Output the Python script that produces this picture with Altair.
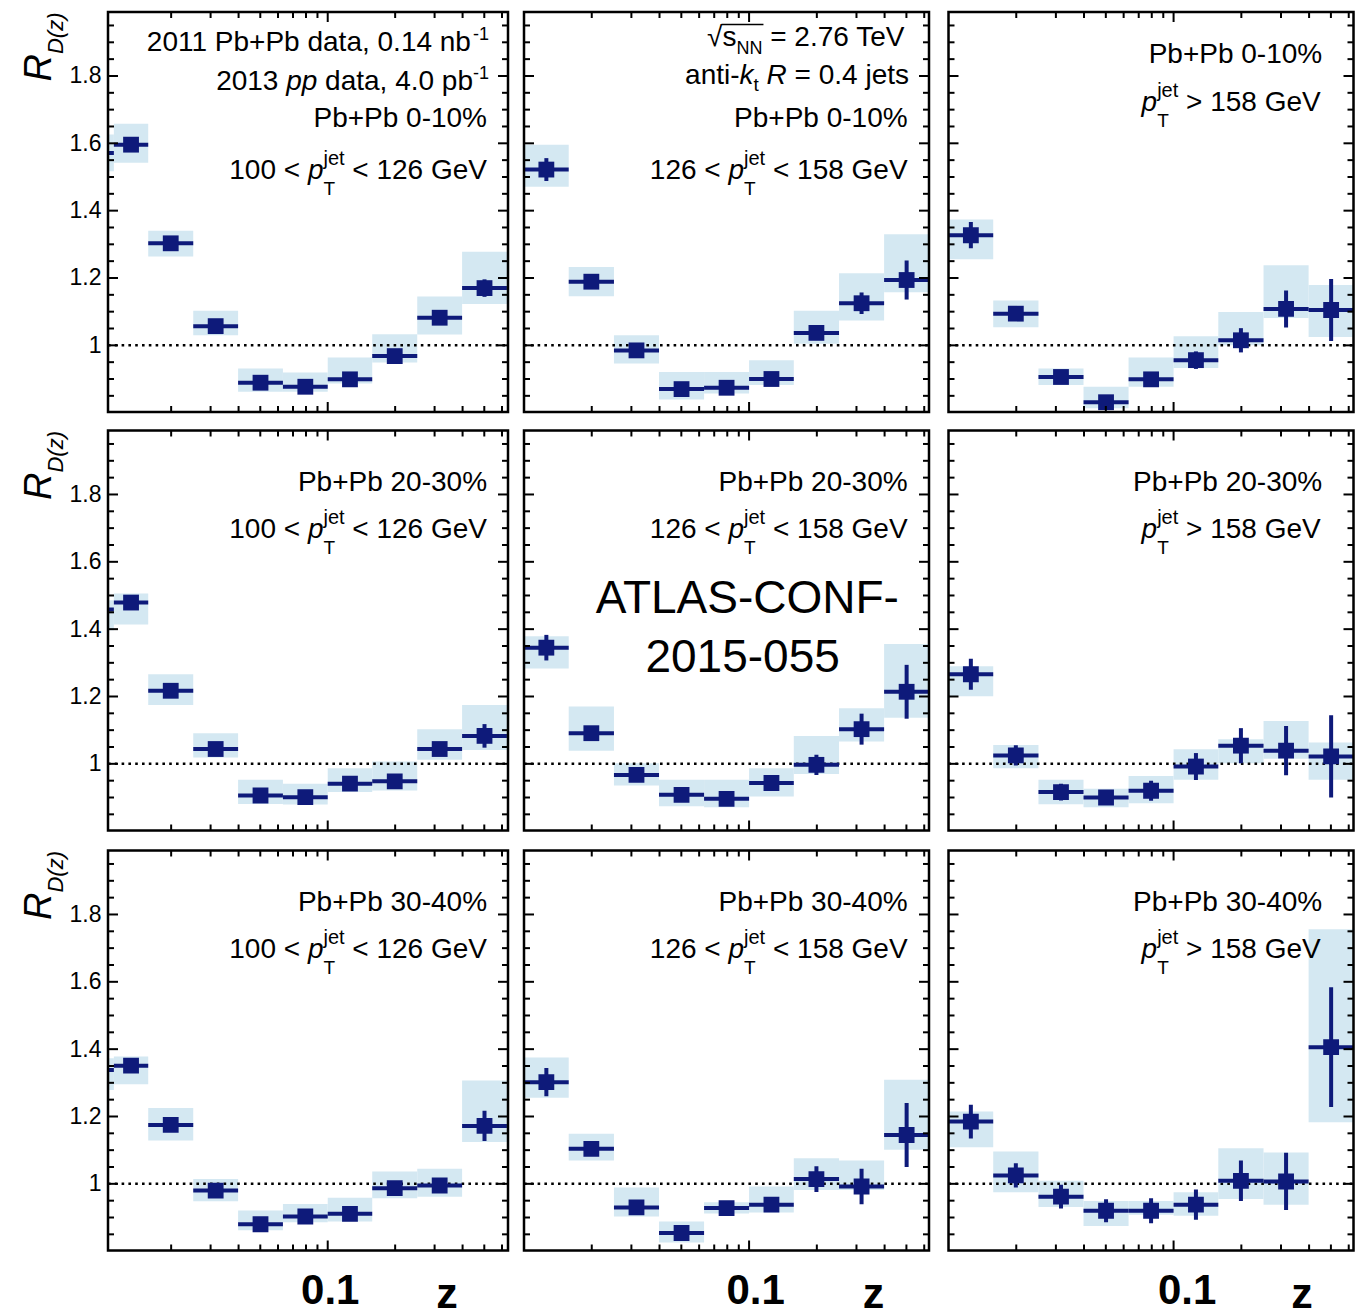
import math
import altair as alt
import pandas as pd

FONT = "Liberation Sans"
NAVY = "#0e1a7a"
BOX = "#d4e8f2"

# ---------------- data ----------------
EDGES = [0.01, 0.0158, 0.0251, 0.0398, 0.0631, 0.1, 0.158, 0.251, 0.398, 0.631]
COL1_FIRST_EDGE = 0.0111
UNDERFLOW_EDGES = [0.0079, 0.0111]

# row 1 : Pb+Pb 0-10 %
P11_VAL = [1.596, 1.303, 1.057, 0.889, 0.877, 0.899, 0.968, 1.082, 1.170]
P11_LO = [1.542, 1.264, 1.030, 0.862, 0.862, 0.887, 0.949, 1.032, 1.123]
P11_HI = [1.658, 1.340, 1.103, 0.931, 0.919, 0.964, 1.033, 1.145, 1.278]
P11_STAT = [0.012, 0.010, 0.010, 0.010, 0.012, 0.012, 0.013, 0.016, 0.026]
P11_UNDER = [1.571, 1.517, 1.626]

P12_VAL = [1.522, 1.189, 0.985, 0.870, 0.874, 0.900, 1.037, 1.125, 1.194]
P12_LO = [1.471, 1.146, 0.946, 0.839, 0.857, 0.882, 1.005, 1.074, 1.158]
P12_HI = [1.596, 1.233, 1.030, 0.921, 0.921, 0.956, 1.103, 1.214, 1.330]
P12_STAT = [0.034, 0.012, 0.012, 0.012, 0.012, 0.012, 0.014, 0.032, 0.058]

P13_VAL = [1.327, 1.094, 0.906, 0.831, 0.899, 0.956, 1.015, 1.108, 1.105]
P13_LO = [1.256, 1.054, 0.882, 0.813, 0.877, 0.933, 1.000, 1.081, 1.025]
P13_HI = [1.374, 1.133, 0.931, 0.877, 0.964, 1.027, 1.099, 1.238, 1.179]
P13_STAT = [0.039, 0.012, 0.012, 0.012, 0.012, 0.026, 0.036, 0.055, 0.092]

# row 2 : Pb+Pb 20-30 %
P21_VAL = [1.479, 1.217, 1.044, 0.906, 0.901, 0.941, 0.948, 1.044, 1.083]
P21_LO = [1.414, 1.175, 1.019, 0.881, 0.879, 0.916, 0.921, 1.012, 1.041]
P21_HI = [1.506, 1.266, 1.091, 0.953, 0.941, 0.987, 1.007, 1.103, 1.175]
P21_STAT = [0.012, 0.010, 0.010, 0.010, 0.010, 0.010, 0.012, 0.014, 0.035]
P21_UNDER = [1.458, 1.397, 1.486]

P22_VAL = [1.345, 1.091, 0.967, 0.908, 0.896, 0.943, 0.997, 1.103, 1.214]
P22_LO = [1.283, 1.039, 0.936, 0.874, 0.871, 0.903, 0.970, 1.066, 1.137]
P22_HI = [1.379, 1.170, 1.002, 0.953, 0.953, 0.987, 1.083, 1.165, 1.356]
P22_STAT = [0.038, 0.012, 0.012, 0.012, 0.012, 0.012, 0.030, 0.046, 0.080]

P23_VAL = [1.266, 1.025, 0.916, 0.900, 0.920, 0.992, 1.054, 1.039, 1.022]
P23_LO = [1.201, 0.987, 0.880, 0.871, 0.883, 0.953, 1.002, 1.015, 0.953]
P23_HI = [1.290, 1.056, 0.953, 0.926, 0.964, 1.043, 1.073, 1.127, 1.063]
P23_STAT = [0.046, 0.030, 0.025, 0.020, 0.030, 0.040, 0.052, 0.073, 0.122]

# row 3 : Pb+Pb 30-40 %
P31_VAL = [1.351, 1.175, 0.980, 0.880, 0.903, 0.911, 0.987, 0.995, 1.172]
P31_LO = [1.296, 1.129, 0.948, 0.862, 0.886, 0.888, 0.957, 0.962, 1.124]
P31_HI = [1.378, 1.225, 1.014, 0.921, 0.940, 0.959, 1.037, 1.045, 1.307]
P31_STAT = [0.012, 0.010, 0.010, 0.010, 0.010, 0.010, 0.012, 0.013, 0.045]
P31_UNDER = [1.338, 1.279, 1.373]

P32_VAL = [1.302, 1.104, 0.930, 0.854, 0.928, 0.938, 1.014, 0.992, 1.145]
P32_LO = [1.256, 1.069, 0.903, 0.826, 0.912, 0.915, 0.982, 0.982, 1.101]
P32_HI = [1.375, 1.149, 0.989, 0.888, 0.945, 0.992, 1.076, 1.069, 1.309]
P32_STAT = [0.042, 0.012, 0.012, 0.012, 0.012, 0.014, 0.038, 0.053, 0.095]

P33_VAL = [1.185, 1.025, 0.962, 0.920, 0.920, 0.938, 1.009, 1.007, 1.406]
P33_LO = [1.109, 0.975, 0.931, 0.875, 0.908, 0.905, 0.955, 0.938, 1.183]
P33_HI = [1.215, 1.096, 1.009, 0.949, 0.949, 0.975, 1.106, 1.093, 1.756]
P33_STAT = [0.050, 0.036, 0.035, 0.034, 0.037, 0.045, 0.060, 0.085, 0.178]

PANELS = {
    (0, 0): (P11_VAL, P11_LO, P11_HI, P11_STAT, P11_UNDER),
    (0, 1): (P12_VAL, P12_LO, P12_HI, P12_STAT, None),
    (0, 2): (P13_VAL, P13_LO, P13_HI, P13_STAT, None),
    (1, 0): (P21_VAL, P21_LO, P21_HI, P21_STAT, P21_UNDER),
    (1, 1): (P22_VAL, P22_LO, P22_HI, P22_STAT, None),
    (1, 2): (P23_VAL, P23_LO, P23_HI, P23_STAT, None),
    (2, 0): (P31_VAL, P31_LO, P31_HI, P31_STAT, P31_UNDER),
    (2, 1): (P32_VAL, P32_LO, P32_HI, P32_STAT, None),
    (2, 2): (P33_VAL, P33_LO, P33_HI, P33_STAT, None),
}

CENTRALITY = ["0-10%", "20-30%", "30-40%"]
PT_LO = ["100", "126", None]
PT_HI = ["126", "158", "158"]

Y_MAJOR = [1.0, 1.2, 1.4, 1.6, 1.8]
Y_MINOR = [0.85, 0.9, 0.95, 1.05, 1.1, 1.15, 1.25, 1.3, 1.35, 1.45, 1.5, 1.55,
           1.65, 1.7, 1.75, 1.85, 1.9, 1.95]
X_MAJOR = [0.1]
X_MINOR = [0.02, 0.03, 0.04, 0.05, 0.06, 0.07, 0.08, 0.09, 0.2, 0.3, 0.4, 0.5, 0.6]
Y_LABELS = [1.0, 1.2, 1.4, 1.6, 1.8]
X_LABELS = [0.1]

# ---------------- layout ----------------
WIDTHS = [400, 405, 405]
H = 400
XDOM = [[0.01045, 0.638], [0.01, 0.63], [0.01, 0.63]]
YDOM = [0.802, 1.99]
TEXT_RIGHT = [379, 383.6, 373.7]
LABEL_OFFSET = [2, 6, 13]
Z_X = [338.5, 349, 353]

ONE = pd.DataFrame({"k": [0]})

CW = {"0": 556, "1": 556, "2": 556, "3": 556, "4": 556, "5": 556, "6": 556,
      "7": 556, "8": 556, "9": 556, " ": 278, "P": 667, "b": 556, "+": 584,
      "d": 556, "a": 556, "t": 278, ",": 278, ".": 278, "n": 556, "-": 333,
      "p": 556, "%": 889, "<": 584, ">": 584, "j": 222, "e": 556, "T": 611,
      "G": 778, "V": 667, "\u221a": 549, "s": 500, "N": 722, "=": 584,
      "i": 222, "k": 500, "R": 722}


def tw(s, size):
    return sum(CW.get(ch, 556) for ch in s) * size / 1000.0


def place(items, right, base):
    widths = [max(tw(t, s) for (t, s, it, dy) in grp) for grp in items]
    x = right - sum(widths)
    out = []
    for grp, w in zip(items, widths):
        for (t, s, it, dy) in grp:
            lead = len(t) - len(t.lstrip(" "))
            out.append((x + lead * 278 * s / 1000.0, base + dy, t.strip(" "), s, it))
        x += w
    return out


def text_mark(x, y, t, size, italic=False, align="left", angle=None):
    kw = dict(text=t, font=FONT, fontSize=size, align=align,
              baseline="alphabetic", color="black")
    if italic:
        kw["fontStyle"] = "italic"
    if angle is not None:
        kw["angle"] = angle
    return alt.Chart(ONE).mark_text(**kw).encode(x=alt.value(x), y=alt.value(y))


def pt_items(lo, hi):
    sup = [("jet", 20, False, -14), ("T", 19, False, 16)]
    if lo is None:
        return [[("p", 28, True, 0)], sup, [(" > " + hi + " GeV", 28, False, 0)]]
    return [[(lo + " < ", 28, False, 0)], [("p", 28, True, 0)], sup,
            [(" < " + hi + " GeV", 28, False, 0)]]


def panel_texts(r, c):
    R = TEXT_RIGHT[c]
    segs = []
    extra = []
    cent = [[("Pb+Pb " + CENTRALITY[r], 28, False, 0)]]
    if r == 0 and c == 0:
        segs += place([[("2011 Pb+Pb data, 0.14 nb", 28, False, 0)], [("-1", 18, False, -11)]], 381, 38.6)
        segs += place([[("2013 ", 28, False, 0)], [("pp", 28, True, 0)],
                       [(" data, 4.0 pb", 28, False, 0)], [("-1", 18, False, -11)]], 381, 77.6)
        segs += place(cent, R, 115.3)
        segs += place(pt_items(PT_LO[c], PT_HI[c]), R, 166.6)
    elif r == 0 and c == 1:
        sq = place([[("\u221a", 28, False, 0)], [("s", 28, False, 0)], [("NN", 18, False, 8)],
                    [(" = 2.76 TeV", 28, False, 0)]], 384, 34.3)
        segs += sq
        x0 = sq[0][0] + tw("\u221a", 28) - 1
        x1 = sq[2][0] + tw("NN", 18) + 1
        extra.append(alt.Chart(ONE).mark_rule(color="black", strokeWidth=1.6).encode(
            x=alt.value(x0), x2=alt.value(x1), y=alt.value(12.5)))
        segs += place([[("anti-", 28, False, 0)], [("k", 28, True, 0)], [("t", 19, False, 7)],
                       [(" ", 28, False, 0)], [("R", 28, True, 0)],
                       [(" = 0.4 jets", 28, False, 0)]], 385, 72)
        segs += place(cent, R, 115.3)
        segs += place(pt_items(PT_LO[c], PT_HI[c]), R, 166.6)
    elif r == 0 and c == 2:
        segs += place(cent, R, 51)
        segs += place(pt_items(PT_LO[c], PT_HI[c]), R - 1.5, 99.3)
    else:
        segs += place(cent, R, 60.3)
        segs += place(pt_items(PT_LO[c], PT_HI[c]), R - (1.5 if c == 2 else 0), 107.6)
    layers = [text_mark(x, y, t, s, it) for (x, y, t, s, it) in segs if t]
    if r == 1 and c == 1:
        layers.append(text_mark(223.3, 182, "ATLAS-CONF-", 46, align="center"))
        layers.append(text_mark(218.6, 241, "2015-055", 46, align="center"))
    if c == 0:
        layers.append(text_mark(-57, 69.5, "R", 38, True, angle=270))
        layers.append(text_mark(-45, 69.5 - tw("R", 38), "D(z)", 22, True, angle=270))
    return layers + extra


def panel(r, c):
    W = WIDTHS[c]
    val, lo, hi, stat, under = PANELS[(r, c)]
    xlo = list(EDGES[:-1])
    xhi = list(EDGES[1:])
    if c == 0:
        xlo[0] = COL1_FIRST_EDGE
    rows = []
    for i in range(9):
        rows.append(dict(x_lo=xlo[i], x_hi=xhi[i], x_c=math.sqrt(xlo[i] * xhi[i]),
                         val=val[i], lo=lo[i], hi=hi[i],
                         s_lo=val[i] - stat[i], s_hi=val[i] + stat[i]))
    if under is not None:
        a, b = UNDERFLOW_EDGES
        rows.insert(0, dict(x_lo=a, x_hi=b, x_c=math.sqrt(a * b), val=under[0],
                            lo=under[1], hi=under[2], s_lo=under[0] - 0.01,
                            s_hi=under[0] + 0.01))
    df = pd.DataFrame(rows)

    xs = alt.Scale(type="log", domain=XDOM[c], nice=False)
    ys = alt.Scale(domain=YDOM, nice=False, zero=False)
    if c == 0:
        yaxis = alt.Axis(values=Y_LABELS, format="~g", ticks=False, tickSize=0, domain=False,
                         grid=False, labelFontSize=23, labelPadding=7, title=None,
                         labelColor="black", labelFont=FONT)
    else:
        yaxis = None
    if r == 2:
        xaxis = alt.Axis(values=X_LABELS, format="~g", ticks=False, tickSize=0, domain=False,
                         grid=False, labelFontSize=42, labelFontWeight="bold", labelFont=FONT,
                         labelColor="black", labelBaseline="alphabetic", labelPadding=53,
                         labelOffset=LABEL_OFFSET[c], labelFlush=False,
                         title="z", titleFontSize=43, titleFontWeight="bold", titleFont=FONT,
                         titleColor="black", titleX=Z_X[c], titleY=57, titleAlign="center",
                         titleBaseline="alphabetic", titleAnchor="start")
    else:
        xaxis = None

    def X(f):
        return alt.X(f, scale=xs, axis=xaxis)

    def Y(f):
        return alt.Y(f, scale=ys, axis=yaxis)

    base = alt.Chart(df)
    box = base.mark_rect(color=BOX, clip=True).encode(
        x=X("x_lo:Q"), x2="x_hi:Q", y=Y("lo:Q"), y2="hi:Q")
    unity = alt.Chart(pd.DataFrame({"one": [1.0]})).mark_rule(
        color="black", strokeWidth=2.5, strokeDash=[2.6, 4.2]).encode(
        y=Y("one:Q"), x=alt.value(0), x2=alt.value(W))
    hbar = base.mark_rule(color=NAVY, strokeWidth=4, clip=True).encode(
        x=X("x_lo:Q"), x2="x_hi:Q", y=Y("val:Q"))
    vbar = base.mark_rule(color=NAVY, strokeWidth=4, clip=True).encode(
        x=X("x_c:Q"), y=Y("s_lo:Q"), y2="s_hi:Q")
    marker = base.mark_square(size=250, color=NAVY, opacity=1, clip=True).encode(
        x=X("x_c:Q"), y=Y("val:Q"))

    ymaj = pd.DataFrame({"v": Y_MAJOR})
    ymin = pd.DataFrame({"v": Y_MINOR})
    xmaj = pd.DataFrame({"v": X_MAJOR})
    xmin = pd.DataFrame({"v": X_MINOR})
    tk = dict(color="black", strokeWidth=2)
    ticks = []
    for dfv, L in ((ymaj, 10), (ymin, 6)):
        ticks.append(alt.Chart(dfv).mark_rule(**tk).encode(y=Y("v:Q"), x=alt.value(0), x2=alt.value(L)))
        ticks.append(alt.Chart(dfv).mark_rule(**tk).encode(y=Y("v:Q"), x=alt.value(W - L), x2=alt.value(W)))
    for dfv, L in ((xmaj, 10), (xmin, 6)):
        ticks.append(alt.Chart(dfv).mark_rule(**tk).encode(x=X("v:Q"), y=alt.value(0), y2=alt.value(L)))
        ticks.append(alt.Chart(dfv).mark_rule(**tk).encode(x=X("v:Q"), y=alt.value(H - L), y2=alt.value(H)))

    frame = alt.Chart(ONE).mark_rect(filled=False, stroke="black", strokeWidth=2.5).encode(
        x=alt.value(0), x2=alt.value(W), y=alt.value(0), y2=alt.value(H))

    layers = [box, unity, hbar, vbar, marker] + ticks + [frame] + panel_texts(r, c)
    if c == 0:
        layers.append(alt.Chart(ONE).mark_rule(strokeOpacity=0, strokeWidth=1).encode(
            x=alt.value(-107), x2=alt.value(-107),
            y=alt.value(-10.7 if r == 0 else 0), y2=alt.value(H)))
    return alt.layer(*layers).properties(width=W, height=H)


def row(r):
    left = alt.hconcat(panel(r, 0), panel(r, 1), spacing=12)
    return alt.hconcat(left, panel(r, 2), spacing=15.5)


top = alt.vconcat(row(0), row(1), spacing=14.5)
chart = alt.vconcat(top, row(2), spacing=15.5).properties(
    padding={"left": 0, "top": 0, "right": 5, "bottom": 24}
).configure_view(strokeWidth=0).configure(font=FONT)

chart.save("out.html", embed_options={"renderer": "svg", "actions": False})
